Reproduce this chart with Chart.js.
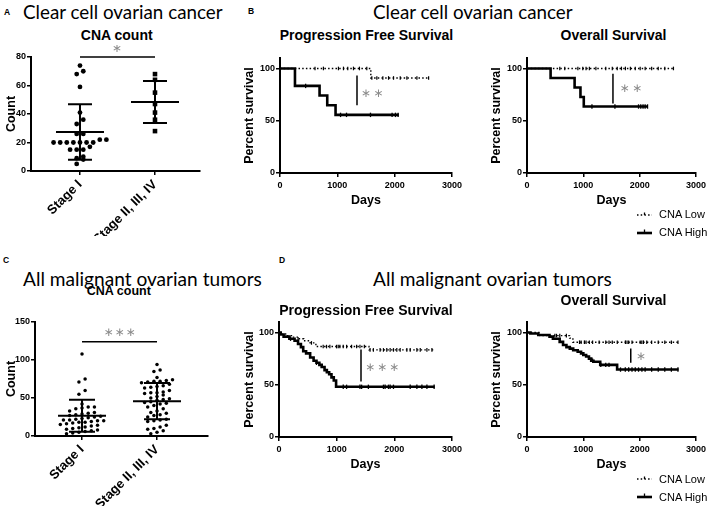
<!DOCTYPE html>
<html><head><meta charset="utf-8">
<script src="https://cdn.jsdelivr.net/npm/chart.js@4.4.1/dist/chart.umd.min.js"></script>
<style>
html,body{margin:0;padding:0;background:#fff;}
#wrap{position:relative;width:709px;height:512px;overflow:hidden;background:#fff;}
#wrap canvas{position:absolute;}
#wrap svg{position:absolute;}
.t{position:absolute;white-space:nowrap;color:#000;}
</style></head><body><div id="wrap"></div>
<script>
// ---------------- DATA ----------------
const stageCategories = ['Stage I', 'Stage II, III, IV'];
const countTicksCC = [0, 20, 40, 60, 80];
const countTicksAll = [0, 50, 100, 150];
const survTicks = [0, 50, 100];
const daysTicks = [0, 1000, 2000, 3000];

// CNA count, clear cell
const ccStageI = [74, 70, 68, 59, 41, 36, 33, 26, 26, 22, 22, 20, 20, 20, 20, 20, 20, 20, 17, 15, 15, 15, 10, 9, 8, 5];
const ccStageII = [68, 64, 55, 47, 41, 36, 28];
// CNA count, all malignant
const allStageI = [108, 75, 71, 60, 55, 42, 38, 38, 37, 36, 33, 31, 30, 29, 28, 27, 26, 25, 24, 23, 22, 21, 21, 20, 20, 19, 18, 18, 17, 16, 15, 14, 13, 12, 11, 10, 9, 8, 7, 6, 5, 4, 3];
const allStageII = [94, 87, 85, 77, 74, 73, 72, 72, 71, 70, 68, 66, 65, 64, 63, 60, 58, 57, 57, 56, 54, 52, 50, 49, 48, 47, 45, 44, 43, 42, 40, 38, 36, 33, 31, 30, 28, 27, 25, 22, 21, 20, 19, 14, 12, 10, 9, 7, 5, 3];

// Kaplan-Meier, clear cell, PFS
const ccPfsHighT = [0, 261, 690, 824, 969];
const ccPfsHighS = [100, 83.3, 74.1, 64.8, 55.6];
const ccPfsHighEnd = 2072;
const ccPfsHighCens = [447, 1056, 1160, 1578, 1955, 2014, 2060];
const ccPfsLowT = [0, 1584];
const ccPfsLowS = [100, 90.9];
const ccPfsLowEnd = 2609;
const ccPfsLowCens = [611, 757, 1019, 1107, 1182, 1281, 1386, 1514, 1602, 1689, 1794, 1893, 1980, 2097, 2213, 2388, 2592];
// clear cell, OS
const ccOsHighT = [0, 419, 845, 949, 1008];
const ccOsHighS = [100, 90.9, 81.8, 72.7, 63.6];
const ccOsHighEnd = 2143;
const ccOsHighCens = [1153, 1561, 1980, 2020, 2060, 2097, 2140];
const ccOsLowT = [0];
const ccOsLowS = [100];
const ccOsLowEnd = 2609;
const ccOsLowCens = [582, 670, 903, 990, 1048, 1107, 1223, 1398, 1514, 1602, 1677, 1747, 1835, 1922, 2009, 2097, 2213, 2330, 2446, 2600];
// all malignant, PFS
const allPfsHighT = [0, 30, 80, 180, 270, 330, 380, 420, 470, 540, 600, 650, 700, 740, 790, 830, 870, 910, 950, 990];
const allPfsHighS = [100, 98, 96, 94, 92, 89, 86, 82, 80, 76, 73, 71, 69, 67, 64, 62, 60, 57, 54, 48];
const allPfsHighEnd = 2700;
const allPfsHighCens = [200, 650, 1114, 1172, 1404, 1433, 1550, 1811, 1840, 1898, 1927, 1985, 2275, 2391, 2478, 2565, 2690];
const allPfsLowT = [0, 50, 130, 230, 330, 430, 540, 640, 1560];
const allPfsLowS = [100, 98.5, 97, 95.5, 94, 92, 90, 86.5, 83.3];
const allPfsLowEnd = 2700;
const allPfsLowCens = [331, 563, 766, 824, 882, 998, 1027, 1056, 1114, 1172, 1259, 1346, 1404, 1480, 1579, 1637, 1753, 1811, 1869, 1927, 1985, 2043, 2101, 2217, 2275, 2391, 2449, 2565, 2652];
// all malignant, OS
const allOsHighT = [0, 60, 200, 400, 460, 580, 640, 700, 760, 820, 900, 960, 1000, 1050, 1100, 1140, 1180, 1300, 1600];
const allOsHighS = [100, 99, 97.5, 96, 94, 91, 88, 86, 84.5, 83, 81.5, 80, 78.5, 77, 75, 73, 72, 69, 64.5];
const allOsHighEnd = 2690;
const allOsHighCens = [1165, 1310, 1398, 1456, 1660, 1745, 1805, 1864, 1922, 1980, 2040, 2097, 2213, 2330, 2446, 2563, 2680];
const allOsLowT = [0, 233, 757, 815];
const allOsLowS = [100, 97, 94.6, 90.7];
const allOsLowEnd = 2690;
const allOsLowCens = [495, 524, 582, 699, 932, 961, 1019, 1048, 1107, 1165, 1281, 1398, 1456, 1514, 1602, 1747, 1776, 1805, 1864, 2009, 2038, 2067, 2126, 2213, 2330, 2446, 2563, 2680];

// ---------------- HELPERS ----------------
const wrap = document.getElementById('wrap');
const SANS = "'Liberation Sans', Arial, sans-serif";
const HUM = "Lato, 'Open Sans', sans-serif";
const mctx = document.createElement('canvas').getContext('2d');

function addText(txt, x, baseline, f, align, targetW) {
  let size = f.size;
  const w = f.weight || 'normal';
  mctx.font = `${w} ${size}px ${f.family}`;
  let m = mctx.measureText(txt);
  if (targetW) { size = size * targetW / m.width; mctx.font = `${w} ${size}px ${f.family}`; m = mctx.measureText(txt); }
  const A = m.fontBoundingBoxAscent, D = m.fontBoundingBoxDescent;
  const el = document.createElement('div');
  el.className = 't';
  el.textContent = txt;
  el.style.fontFamily = f.family;
  el.style.fontSize = size + 'px';
  el.style.fontWeight = w;
  el.style.lineHeight = '0';
  if (f.color) el.style.color = f.color;
  el.style.top = (baseline - (A - D) / 2) + 'px';
  el.style.left = (align === 'center' ? x - m.width / 2 : x) + 'px';
  wrap.appendChild(el);
}

function makeCanvas(left, top, w, h) {
  const c = document.createElement('canvas');
  c.width = w; c.height = h;
  c.style.left = left + 'px'; c.style.top = top + 'px';
  c.style.width = w + 'px'; c.style.height = h + 'px';
  wrap.appendChild(c);
  return c;
}

function stepLookup(T, S, t) { let s = S[0]; for (let i = 0; i < T.length; i++) { if (T[i] <= t) s = S[i]; } return s; }
function curvePts(T, S, end) { const p = T.map((t, i) => ({x: t, y: S[i]})); p.push({x: end, y: S[S.length - 1]}); return p; }
function censPts(T, S, C) { return C.map(c => ({x: c, y: stepLookup(T, S, c)})); }
function mean(a) { return a.reduce((s, v) => s + v, 0) / a.length; }
function sd(a) { const m = mean(a); return Math.sqrt(a.reduce((s, v) => s + (v - m) * (v - m), 0) / (a.length - 1)); }

// annotation plugin: significance bars and asterisks (data coordinates)
const annot = {
  id: 'annot',
  afterDraw(chart, args, o) {
    const {ctx} = chart; const x = chart.scales.x, y = chart.scales.y;
    ctx.save();
    (o.segments || []).forEach(s => {
      ctx.strokeStyle = s.color || '#000'; ctx.lineWidth = s.width || 1.5;
      ctx.beginPath();
      ctx.moveTo(x.getPixelForValue(s.x1), y.getPixelForValue(s.y1));
      ctx.lineTo(x.getPixelForValue(s.x2), y.getPixelForValue(s.y2));
      ctx.stroke();
    });
    (o.stars || []).forEach(s => {
      ctx.fillStyle = '#8a8a8a';
      ctx.font = `${s.size}px 'DejaVu Sans'`;
      ctx.textAlign = 'center'; ctx.textBaseline = 'middle';
      const cx = x.getPixelForValue(s.x), cy = y.getPixelForValue(s.y);
      for (let i = 0; i < s.n; i++) ctx.fillText('\u2217', cx + (i - (s.n - 1) / 2) * s.gap, cy);
    });
    ctx.restore();
  }
};

// mean +/- SD bars
const errbars = {
  id: 'errbars',
  afterDatasetsDraw(chart, args, o) {
    if (!o.groups) return;
    const {ctx} = chart; const x = chart.scales.x, y = chart.scales.y;
    ctx.save();
    ctx.strokeStyle = '#000'; ctx.lineWidth = 2;
    o.groups.forEach((vals, i) => {
      const cx = x.getPixelForValue(i + 1);
      const m = mean(vals), s = sd(vals);
      const ym = y.getPixelForValue(m), yt = y.getPixelForValue(m + s), yb = y.getPixelForValue(m - s);
      ctx.beginPath();
      ctx.moveTo(cx - o.meanHalf, ym); ctx.lineTo(cx + o.meanHalf, ym);
      ctx.moveTo(cx - o.capHalf, yt); ctx.lineTo(cx + o.capHalf, yt);
      ctx.moveTo(cx - o.capHalf, yb); ctx.lineTo(cx + o.capHalf, yb);
      ctx.moveTo(cx, yt); ctx.lineTo(cx, yb);
      ctx.stroke();
    });
    ctx.restore();
  }
};

const tickFont = {family: SANS, size: 9, weight: 'bold'};
const titleFont = {family: SANS, size: 12.5, weight: 'bold'};

function axisY(ticksArr, max, title, yW) {
  return {
    type: 'linear', min: 0, max: max,
    afterBuildTicks: s => { s.ticks = ticksArr.map(v => ({value: v})); },
    ticks: {font: tickFont, color: '#000', padding: 1, callback: v => String(v)},
    grid: {drawOnChartArea: false, drawTicks: true, tickLength: 4, color: '#000', lineWidth: 1.5},
    border: {display: true, color: '#000', width: 2},
    title: {display: true, text: title, font: titleFont, color: '#000', padding: {top: 4, bottom: 0}},
    afterFit: s => { s.width = yW; }
  };
}

function kmChart(box, area, low, high, annotOpts) {
  const c = makeCanvas(box.left, box.top, box.right - box.left, box.bottom - box.top);
  const yW = area.L - box.left, xH = box.bottom - area.B;
  return new Chart(c, {
    type: 'scatter',
    data: {datasets: [
      {data: curvePts(low.T, low.S, low.end), showLine: true, stepped: true, borderColor: '#000', borderWidth: 1.4, borderDash: [1.5, 2.2], pointRadius: 0, fill: false},
      {data: censPts(low.T, low.S, low.C), showLine: false, pointStyle: 'line', rotation: 90, pointRadius: 1.8, borderColor: '#000', borderWidth: 1.2},
      {data: curvePts(high.T, high.S, high.end), showLine: true, stepped: true, borderColor: '#000', borderWidth: 2.6, pointRadius: 0, fill: false},
      {data: censPts(high.T, high.S, high.C), showLine: false, pointStyle: 'line', rotation: 90, pointRadius: 2.2, borderColor: '#000', borderWidth: 1.3}
    ]},
    options: {
      responsive: false, animation: false, devicePixelRatio: 1,
      layout: {padding: {top: area.T - box.top, right: box.right - area.R, left: 0, bottom: 0}},
      plugins: {legend: {display: false}, tooltip: {enabled: false}, annot: annotOpts},
      scales: {
        x: {
          type: 'linear', min: 0, max: 3000,
          afterBuildTicks: s => { s.ticks = daysTicks.map(v => ({value: v})); },
          ticks: {font: tickFont, color: '#000', padding: 3, maxRotation: 0, callback: v => String(v)},
          grid: {drawOnChartArea: false, tickLength: 4, color: '#000', lineWidth: 1.5},
          border: {color: '#000', width: 2},
          title: {display: true, text: 'Days', font: titleFont, color: '#000', padding: {top: 0, bottom: 4}},
          afterFit: s => { s.height = xH; }
        },
        y: axisY(survTicks, 110, 'Percent survival', yW)
      }
    },
    plugins: [annot]
  });
}

function countChart(box, area, xmin, xmax, groups, squares, yTicks, ymax, radius, step, binH, annotOpts, errOpts) {
  const c = makeCanvas(box.left, box.top, box.right - box.left, box.bottom - box.top);
  const yW = area.L - box.left, xH = box.bottom - area.B;
  const chart = new Chart(c, {
    type: 'scatter',
    data: {datasets: groups.map((g, i) => ({
      data: g.map(v => ({x: i + 1, y: v})),
      pointStyle: squares[i] ? 'rect' : 'circle',
      pointRadius: squares[i] ? radius * 1.35 : radius,
      backgroundColor: '#000', borderWidth: 0
    }))},
    options: {
      responsive: false, animation: false, devicePixelRatio: 1,
      layout: {padding: {top: area.T - box.top, right: box.right - area.R, left: 0, bottom: 0}},
      plugins: {legend: {display: false}, tooltip: {enabled: false}, annot: annotOpts, errbars: errOpts},
      scales: {
        x: {
          type: 'linear', min: xmin, max: xmax,
          afterBuildTicks: s => { s.ticks = stageCategories.map((c, i) => ({value: i + 1})); },
          ticks: {callback: (v, i) => stageCategories[i], font: {family: SANS, size: 13, weight: 'bold'}, color: '#000', padding: 2, minRotation: 45, maxRotation: 45, autoSkip: false},
          grid: {drawOnChartArea: false, tickLength: 4, color: '#000', lineWidth: 1.5},
          border: {color: '#000', width: 2},
          afterFit: s => { s.height = xH; }
        },
        y: axisY(yTicks, ymax, 'Count', yW)
      }
    },
    plugins: [annot, errbars]
  });
  // column-scatter layout: group values into rows of similar pixel height, spread each row horizontally
  const xs = chart.scales.x, ys = chart.scales.y;
  const pxPerX = xs.getPixelForValue(1) - xs.getPixelForValue(0);
  groups.forEach((vals, gi) => {
    const sorted = vals.slice().sort((a, b) => a - b);
    const rows = [];
    let cur = null;
    sorted.forEach(v => {
      const py = ys.getPixelForValue(v);
      if (!cur || Math.abs(cur.start - py) >= binH) { cur = {start: py, vals: []}; rows.push(cur); }
      cur.vals.push(v);
    });
    const pts = [];
    rows.forEach(r => {
      const n = r.vals.length;
      r.vals.forEach((v, i) => {
        const dx = (i - (n - 1) / 2) * step;
        pts.push({x: gi + 1 + dx / pxPerX, y: v});
      });
    });
    chart.data.datasets[gi].data = pts;
  });
  chart.update('none');
  return chart;
}

// ---------------- PANELS ----------------
const ccGroups = [ccStageI, ccStageII];
const allGroups = [allStageI, allStageII];

countChart({left: 0, top: 45, right: 215, bottom: 236}, {L: 31, T: 57, R: 200, B: 171},
  0.347, 2.6, ccGroups, [false, true], countTicksCC, 80, 2.4, 6.6, 4.6,
  {segments: [{x1: 1, y1: 80, x2: 2, y2: 80, width: 1.3}], stars: [{x: 1.49, y: 86, n: 1, gap: 12, size: 12}]},
  {groups: ccGroups, meanHalf: 24, capHalf: 12});

countChart({left: 0, top: 310, right: 223, bottom: 506}, {L: 35, T: 322, R: 208, B: 436},
  0.373, 2.68, allGroups, [false, false], countTicksAll, 150, 1.75, 6.2, 4.2,
  {segments: [{x1: 1, y1: 124, x2: 2, y2: 124, width: 1.3}], stars: [{x: 1.5, y: 136, n: 3, gap: 11, size: 12}]},
  {groups: allGroups, meanHalf: 24, capHalf: 13});

kmChart({left: 238, top: 46, right: 466, bottom: 212}, {L: 280, T: 58, R: 452, B: 173},
  {T: ccPfsLowT, S: ccPfsLowS, end: ccPfsLowEnd, C: ccPfsLowCens},
  {T: ccPfsHighT, S: ccPfsHighS, end: ccPfsHighEnd, C: ccPfsHighCens},
  {segments: [{x1: 1343, y1: 93.3, x2: 1343, y2: 64.8, width: 1.5}], stars: [{x: 1605, y: 76, n: 2, gap: 12.5, size: 12}]});

kmChart({left: 485, top: 46, right: 709, bottom: 212}, {L: 527, T: 58, R: 698, B: 173},
  {T: ccOsLowT, S: ccOsLowS, end: ccOsLowEnd, C: ccOsLowCens},
  {T: ccOsHighT, S: ccOsHighS, end: ccOsHighEnd, C: ccOsHighCens},
  {segments: [{x1: 1526, y1: 95, x2: 1526, y2: 66.5, width: 1.5}], stars: [{x: 1842, y: 80, n: 2, gap: 12.5, size: 12}]});

kmChart({left: 238, top: 310, right: 466, bottom: 476}, {L: 279, T: 322, R: 452, B: 437},
  {T: allPfsLowT, S: allPfsLowS, end: allPfsLowEnd, C: allPfsLowCens},
  {T: allPfsHighT, S: allPfsHighS, end: allPfsHighEnd, C: allPfsHighCens},
  {segments: [{x1: 1422, y1: 83.7, x2: 1422, y2: 53, width: 1.5}], stars: [{x: 1786, y: 66.3, n: 3, gap: 12, size: 12}]});

kmChart({left: 485, top: 310, right: 709, bottom: 476}, {L: 527, T: 322, R: 698, B: 437},
  {T: allOsLowT, S: allOsLowS, end: allOsLowEnd, C: allOsLowCens},
  {T: allOsHighT, S: allOsHighS, end: allOsHighEnd, C: allOsHighCens},
  {segments: [{x1: 1842, y1: 84.6, x2: 1842, y2: 71, width: 1.5}], stars: [{x: 2018, y: 77, n: 1, gap: 12, size: 12}]});

// ---------------- TEXT ----------------
const letterF = {family: SANS, size: 8.5, weight: 'bold'};
const bigF = {family: HUM, size: 20};
const headF = {family: SANS, size: 14, weight: 'bold'};
const legF = {family: SANS, size: 11};
addText('A', 4, 15, letterF);
addText('Clear cell ovarian cancer', 23, 19.3, bigF, 'left', 200);
addText('CNA count', 117, 39.8, headF, 'center');
addText('B', 248, 14.3, letterF);
addText('Clear cell ovarian cancer', 373, 19.3, bigF, 'left', 200);
addText('Progression Free Survival', 366.5, 39.8, headF, 'center');
addText('Overall Survival', 613.5, 39.8, headF, 'center');
addText('C', 3, 263.3, letterF);
addText('All malignant ovarian tumors', 23, 286, bigF, 'left', 239);
addText('CNA count', 119, 294.8, {family: SANS, size: 12.5, weight: 'bold'}, 'center');
addText('D', 279, 263.3, letterF);
addText('All malignant ovarian tumors', 373, 286, bigF, 'left', 239);
addText('Progression Free Survival', 366, 314.5, headF, 'center');
addText('Overall Survival', 613.5, 305.3, headF, 'center');
addText('CNA Low', 659, 218.3, legF);
addText('CNA High', 659, 236, legF);
addText('CNA Low', 659, 482.7, legF);
addText('CNA High', 659, 500.7, legF);

// legend symbols
function legendSym(x, y, low) {
  const ns = 'http://www.w3.org/2000/svg';
  const svg = document.createElementNS(ns, 'svg');
  svg.setAttribute('width', 20); svg.setAttribute('height', 10);
  svg.style.left = x + 'px'; svg.style.top = (y - 5) + 'px';
  const l = document.createElementNS(ns, 'line');
  l.setAttribute('x1', 1); l.setAttribute('x2', 16); l.setAttribute('y1', 5); l.setAttribute('y2', 5);
  l.setAttribute('stroke', '#000');
  l.setAttribute('stroke-width', low ? 1.3 : 2.6);
  if (low) l.setAttribute('stroke-dasharray', '1.5 2.2');
  svg.appendChild(l);
  const t = document.createElementNS(ns, 'line');
  t.setAttribute('x1', 8.5); t.setAttribute('x2', 8.5); t.setAttribute('y1', low ? 2.5 : 1.5); t.setAttribute('y2', 5);
  t.setAttribute('stroke', '#000'); t.setAttribute('stroke-width', 1.3);
  svg.appendChild(t);
  wrap.appendChild(svg);
}
legendSym(636, 215, true);
legendSym(636, 233, false);
legendSym(636, 479, true);
legendSym(636, 497, false);
</script></body></html>
